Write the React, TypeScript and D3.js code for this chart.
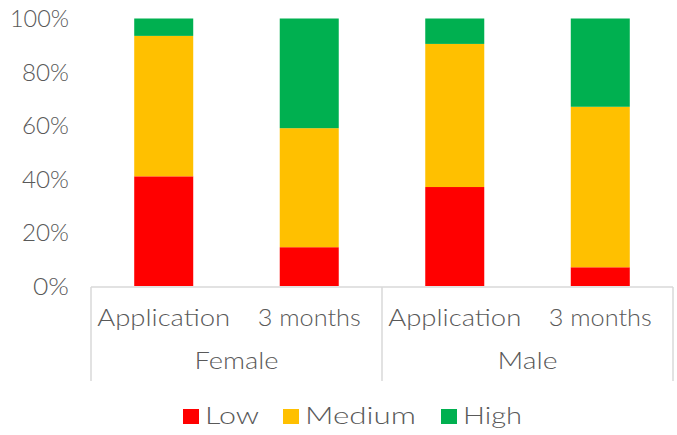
import React from "react";
import * as d3 from "d3";

const groups = ["Female", "Male"];
const periods = ["Application", "3 months"];
const seriesNames = ["Low", "Medium", "High"];
const seriesColors = ["#FF0000", "#FFC000", "#00B050"];
const low = [41, 14.5, 37, 7];
const medium = [52.5, 44.5, 53.5, 60];
const high = [6.5, 41, 9.5, 33];
const yTicks = [0, 20, 40, 60, 80, 100];

const W = 677;
const H = 435;
const FONT = "Lato, 'DejaVu Sans', sans-serif";
const TEXT = "#595959";
const AXIS = "#D9D9D9";

export default function App() {
  const rows = groups.flatMap((g, gi) =>
    periods.map((p, pi) => {
      const i = gi * periods.length + pi;
      return { key: `${g}|${p}`, group: g, period: p, Low: low[i], Medium: medium[i], High: high[i] };
    })
  );
  const stack = d3.stack<any>().keys(seriesNames)(rows);

  const left = 91;
  const right = 673;
  const x = d3
    .scaleBand<string>()
    .domain(rows.map((r) => r.key))
    .range([left, right])
    .paddingInner(0.5945)
    .paddingOuter(0.297);
  const y = d3.scaleLinear().domain([0, 100]).range([286, 18.5]);
  const gx = d3.scaleBand<string>().domain(groups).range([left, right]);

  const legendItems = [
    { name: "Low", sx: 183, tx: 205, w: 54 },
    { name: "Medium", sx: 283, tx: 305, w: 111 },
    { name: "High", sx: 441, tx: 463, w: 59 },
  ];

  return (
    <svg
      width={W}
      height={H}
      style={{ position: "absolute", left: 0, top: 0, background: "#fff" }}
      fontFamily={FONT}
      fontWeight={300}
    >
      {yTicks.map((t) => (
        <text
          key={t}
          x={69}
          y={y(t) + 8.5}
          textAnchor="end"
          fontSize={23}
          fill={TEXT}
          textLength={t === 100 ? 59 : t === 0 ? 36 : 47}
          lengthAdjust="spacingAndGlyphs"
        >
          {t}%
        </text>
      ))}
      {stack.map((s, si) =>
        s.map((d, di) => (
          <rect
            key={`${si}-${di}`}
            x={x(rows[di].key)}
            width={x.bandwidth()}
            y={y(d[1])}
            height={y(d[0]) - y(d[1])}
            fill={seriesColors[si]}
          />
        ))
      )}
      <line x1={left} x2={right} y1={287} y2={287} stroke={AXIS} strokeWidth={1.5} />
      {[left, gx("Male")!, right].map((v, i) => (
        <line key={i} x1={v} x2={v} y1={287} y2={381} stroke={AXIS} strokeWidth={1.5} />
      ))}
      {rows.map((r) => (
        <text
          key={r.key}
          x={x(r.key)! + x.bandwidth() / 2}
          y={326}
          textAnchor="middle"
          fontSize={23}
          fill={TEXT}
          textLength={r.period === "Application" ? 133 : 103}
          lengthAdjust="spacingAndGlyphs"
        >
          {r.period}
        </text>
      ))}
      {groups.map((g) => (
        <text
          key={g}
          x={gx(g)! + gx.bandwidth() / 2}
          y={369}
          textAnchor="middle"
          fontSize={23}
          fill={TEXT}
          textLength={g === "Female" ? 84 : 60}
          lengthAdjust="spacingAndGlyphs"
        >
          {g}
        </text>
      ))}
      {legendItems.map((l, i) => (
        <g key={l.name}>
          <rect x={l.sx} y={409} width={16} height={15} fill={seriesColors[i]} />
          <text
            x={l.tx}
            y={424}
            fontSize={24}
            fill={TEXT}
            textLength={l.w}
            lengthAdjust="spacingAndGlyphs"
          >
            {l.name}
          </text>
        </g>
      ))}
    </svg>
  );
}
